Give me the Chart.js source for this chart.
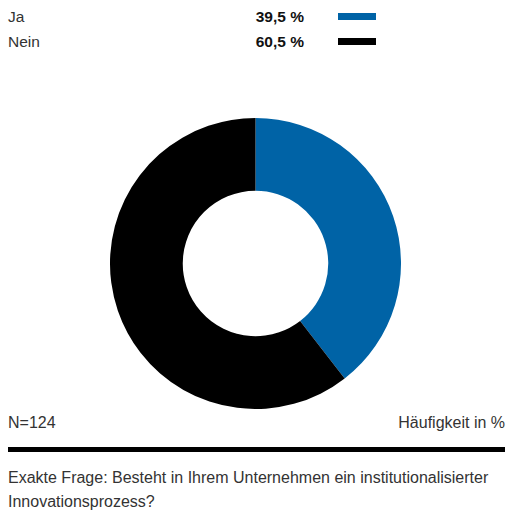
<!DOCTYPE html>
<html lang="de">
<head>
<meta charset="utf-8">
<script src="https://cdn.jsdelivr.net/npm/chart.js@4/dist/chart.umd.min.js"></script>
<style>
    body {
        margin: 0;
        background: #fff;
        font-family: "Liberation Sans", Arial, sans-serif;
        color: #333;
    }
    .wrap {
        position: relative;
        width: 507px;
        height: 511px;
    }
    .legend-row {
        position: absolute;
        left: 8px;
        width: 370px;
        height: 20px;
        font-size: 15.5px;
        line-height: 20px;
    }
    .legend-row .label { position: absolute; left: 0; }
    .legend-row .value { position: absolute; right: 74px; font-weight: bold; color: #111; }
    .legend-row .swatch { position: absolute; left: 330px; top: 6px; width: 38px; height: 7px; }
    #chartBox {
        position: absolute;
        left: 110px;
        top: 118px;
        width: 291px;
        height: 291px;
    }
    .note {
        position: absolute;
        font-size: 16px;
        line-height: 20px;
    }
    .rule {
        position: absolute;
        left: 8px;
        width: 497px;
        top: 447px;
        height: 5px;
        background: #000;
    }
</style>
</head>
<body>
<div class="wrap">
    <div id="legend"></div>
    <div id="chartBox"><canvas id="donut"></canvas></div>
    <div class="note" style="left:8px; top:413px;">N=124</div>
    <div class="note" style="right:2px; top:413px;">Häufigkeit in %</div>
    <div class="rule"></div>
    <div class="note" style="left:8px; top:466px; line-height:24px;">Exakte Frage: Besteht in Ihrem Unternehmen ein institutionalisierter<br>Innovationsprozess?</div>
</div>
<script>
// Antworten und Anteile
const answers = ['Ja', 'Nein'];
const shares = [39.5, 60.5];
const colors = ['#0063a6', '#000000'];

// Legende oben: Label, Wert, Farbfeld
const legend = document.getElementById('legend');
legend.innerHTML = answers.map((a, i) => `
    <div class="legend-row" style="top:${7 + i * 25}px">
        <span class="label">${a}</span>
        <span class="value">${shares[i].toFixed(1).replace('.', ',')} %</span>
        <span class="swatch" style="background:${colors[i]}"></span>
    </div>
`).join('');

new Chart(document.getElementById('donut').getContext('2d'), {
    type: 'doughnut',
    data: {
        labels: answers,
        datasets: [{
            data: shares,
            backgroundColor: colors,
            borderWidth: 0,
            hoverOffset: 0
        }]
    },
    options: {
        responsive: true,
        maintainAspectRatio: false,
        animation: false,
        cutout: '50%',
        layout: { padding: 0 },
        plugins: {
            legend: { display: false },
            tooltip: { enabled: false }
        }
    }
});
</script>
</body>
</html>
